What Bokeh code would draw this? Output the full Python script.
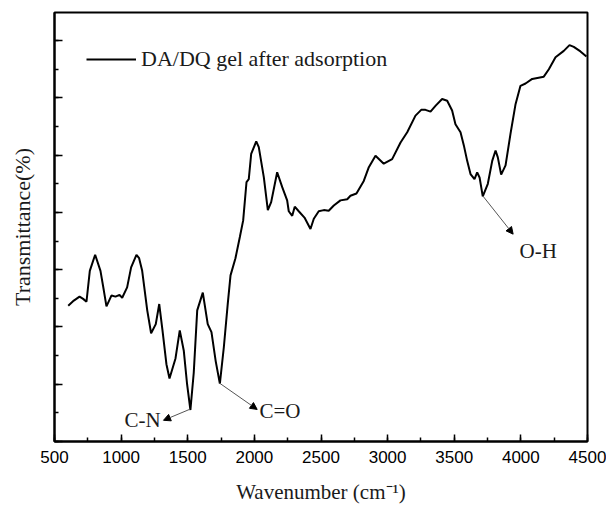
from bokeh.plotting import figure
from bokeh.models import (ColumnDataSource, SingleIntervalTicker, Legend, LegendItem,
                          Arrow, NormalHead, Label, CustomJSTickFormatter)
from bokeh.embed import file_html
from bokeh.resources import INLINE

# ---- data ----
wavenumber = [603, 645, 688, 715, 740, 765, 805, 845, 870, 890, 928, 958, 988, 1008, 1045,
              1075, 1115, 1135, 1158, 1196, 1225, 1260, 1286, 1310, 1340, 1363, 1408, 1440,
              1470, 1495, 1520, 1545, 1571, 1613, 1650, 1678, 1710, 1741, 1771, 1800, 1821,
              1858, 1891, 1916, 1941, 1958, 1976, 2014, 2033, 2071, 2101, 2126, 2171, 2209,
              2246, 2258, 2284, 2303, 2333, 2376, 2421, 2446, 2483, 2521, 2558, 2596, 2646,
              2697, 2721, 2766, 2821, 2859, 2909, 2971, 3034, 3097, 3147, 3209, 3252, 3284,
              3322, 3359, 3409, 3447, 3484, 3509, 3547, 3572, 3597, 3622, 3652, 3672, 3690,
              3714, 3752, 3785, 3810, 3827, 3852, 3885, 3922, 3960, 3997, 4035, 4085, 4172,
              4210, 4260, 4322, 4365, 4397, 4447, 4492]
transmittance = [2.37, 2.46, 2.53, 2.49, 2.44, 2.98, 3.26, 2.98, 2.64, 2.36, 2.55, 2.53, 2.56,
                 2.51, 2.69, 3.04, 3.26, 3.20, 2.98, 2.29, 1.89, 2.05, 2.40, 1.95, 1.35, 1.10,
                 1.45, 1.94, 1.59, 1.00, 0.55, 1.20, 2.29, 2.60, 2.05, 1.91, 1.40, 1.01, 1.65,
                 2.40, 2.90, 3.20, 3.57, 3.86, 4.53, 4.58, 5.02, 5.24, 5.14, 4.61, 4.04, 4.18,
                 4.70, 4.44, 4.21, 4.02, 3.94, 4.10, 4.02, 3.91, 3.71, 3.89, 4.02, 4.04, 4.03,
                 4.12, 4.21, 4.23, 4.29, 4.33, 4.55, 4.79, 4.99, 4.85, 4.93, 5.22, 5.40, 5.69,
                 5.79, 5.79, 5.76, 5.86, 5.98, 5.95, 5.78, 5.54, 5.40, 5.17, 4.90, 4.67, 4.58,
                 4.70, 4.61, 4.28, 4.50, 4.90, 5.08, 4.96, 4.66, 4.82, 5.37, 5.89, 6.21, 6.25,
                 6.33, 6.37, 6.50, 6.71, 6.82, 6.92, 6.89, 6.81, 6.72]
series_name = "DA/DQ gel after adsorption"
peak_labels = ["C-N", "C=O", "O-H"]

SERIF = "Liberation Serif"
SANS = "Liberation Sans"

p = figure(width=606, height=507, x_range=(500, 4500), y_range=(0, 7.49),
           output_backend="svg", toolbar_location=None,
           min_border_left=54, min_border_right=19, min_border_top=12, min_border_bottom=66)
p.background_fill_color = "white"
p.border_fill_color = "white"
p.grid.visible = False
p.outline_line_color = "black"
p.outline_line_width = 2

src = ColumnDataSource(dict(x=wavenumber, y=transmittance))
r = p.line("x", "y", source=src, line_color="black", line_width=2)

# x axis
xa = p.xaxis[0]
xa.ticker = SingleIntervalTicker(interval=500, num_minor_ticks=2)
xa.axis_line_width = 2
xa.major_tick_in = 7
xa.major_tick_out = 0
xa.minor_tick_in = 4
xa.minor_tick_out = 0
xa.major_tick_line_width = 1.5
xa.minor_tick_line_width = 1.5
xa.major_label_text_font = SANS
xa.major_label_text_font_size = "17px"
xa.major_label_text_color = "black"
xa.major_label_standoff = 9
xa.axis_label = "Wavenumber (cm\u207b\u00b9)"
xa.axis_label_text_font = SERIF
xa.axis_label_text_font_size = "21px"
xa.axis_label_text_font_style = "normal"
xa.axis_label_text_color = "#1a1a1a"
xa.axis_label_standoff = 14

# y axis (ticks only, no tick labels)
ya = p.yaxis[0]
ya.ticker = SingleIntervalTicker(interval=1, num_minor_ticks=2)
ya.axis_line_width = 2
ya.major_tick_in = 8
ya.major_tick_out = 0
ya.minor_tick_in = 4
ya.minor_tick_out = 0
ya.major_tick_line_width = 1.5
ya.minor_tick_line_width = 1.5
ya.formatter = CustomJSTickFormatter(code="return '';")
ya.major_label_standoff = 0
ya.axis_label = "Transmittance(%)"
ya.axis_label_text_font = SERIF
ya.axis_label_text_font_size = "22px"
ya.axis_label_text_font_style = "normal"
ya.axis_label_text_color = "#1a1a1a"
ya.axis_label_standoff = 20

# legend
legend = Legend(items=[LegendItem(label=series_name, renderers=[r])],
                location=(32, 369), label_text_font=SERIF, label_text_font_size="22px",
                label_text_color="#1a1a1a", glyph_width=50, glyph_height=20,
                label_standoff=5, padding=0, spacing=0, margin=0,
                border_line_alpha=0, background_fill_alpha=0)
p.add_layout(legend, "center")

# peak annotations
arrows = [
    dict(x_start=1513, y_start=0.56, x_end=1318, y_end=0.37),
    dict(x_start=1738, y_start=1.02, x_end=2021, y_end=0.56),
    dict(x_start=3717, y_start=4.28, x_end=3942, y_end=3.62),
]
for a in arrows:
    p.add_layout(Arrow(end=NormalHead(size=7, fill_color="black", line_color="black",
                                      line_width=1),
                       line_color="#555555", line_width=1, **a))

labels = [
    dict(x=1296, y=0.38, text=peak_labels[0], text_align="right"),
    dict(x=2038, y=0.53, text=peak_labels[1], text_align="left"),
    dict(x=3990, y=3.32, text=peak_labels[2], text_align="left"),
]
for lb in labels:
    p.add_layout(Label(text_font=SERIF, text_font_size="21px", text_color="#1a1a1a",
                       text_baseline="middle", **lb))

open("out.html", "w").write(file_html(p, INLINE))
